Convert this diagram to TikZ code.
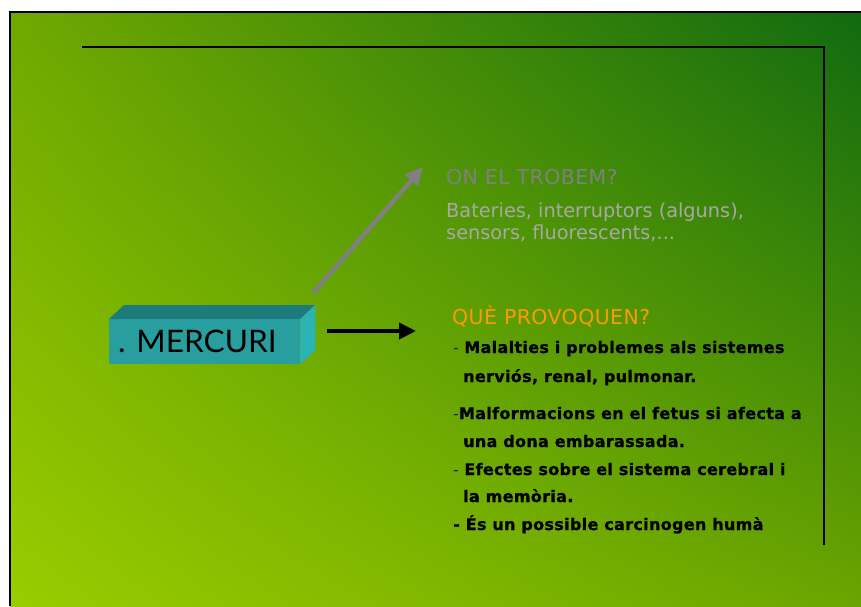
\documentclass[tikz,border=0pt]{standalone}
\usepackage{fontspec}
\usetikzlibrary{arrows.meta,shadings}
\setmainfont{DejaVu Sans}
\newfontfamily\lbf{DejaVu Sans}[LetterSpace=2, BoldFeatures={FakeBold=1}]
\newfontfamily\hdf{DejaVu Sans}[LetterSpace=2]
\newfontfamily\merc{Lato}
\definecolor{gUL}{RGB}{112,168,0}
\definecolor{gLL}{RGB}{153,204,0}
\definecolor{gUR}{RGB}{16,106,16}
\definecolor{gLR}{RGB}{106,164,0}
\definecolor{boxfront}{RGB}{40,158,158}
\definecolor{boxtop}{RGB}{30,123,123}
\definecolor{boxside}{RGB}{43,180,180}
\definecolor{headgray}{RGB}{128,128,128}
\definecolor{bodygray}{RGB}{168,168,168}
\definecolor{headorange}{RGB}{255,153,0}
\definecolor{dashgray}{RGB}{40,40,40}
\begin{document}
\begin{tikzpicture}[x=1pt,y=-1pt,
  txt/.style={anchor=base west, inner sep=0pt},
  lst/.style={txt, font=\lbf\fontsize{16}{19}\selectfont},
  lstb/.style={txt, font=\lbf\bfseries\fontsize{16}{19}\selectfont},
  headtxt/.style={txt, font=\hdf\fontsize{20.5}{25}\selectfont},
  bodytxt/.style={txt, font=\fontsize{19.3}{22}\selectfont, text=bodygray},
  arrowgray/.style={draw=headgray, line width=4.5pt, -{Triangle[length=18pt,width=17pt]}},
  arrowblack/.style={draw=black, line width=4pt, -{Triangle[length=17pt,width=16pt]}}]
\useasboundingbox (0,0) rectangle (861,606);
% slide background
\shade[upper left=gUL, lower left=gLL, upper right=gUR, lower right=gLR] (10,12) rectangle (861,606);
\draw[line width=2pt] (10,606) -- (10,12) -- (861,12);
% frame lines
\draw[line width=1.2pt] (82,47) -- (824,47) -- (824,545);
% box
\node[fill=boxfront, minimum width=191pt, minimum height=45pt, inner sep=0pt, anchor=north west] (box) at (109,319) {};
\fill[boxtop] (box.north west) -- ++(15,-14) -- ++(191,0) -- (box.north east) -- cycle;
\fill[boxside] (box.north east) -- ++(15,-14) -- ++(0,45) -- (box.south east) -- cycle;
\node[txt, font=\merc\fontsize{31}{34}\selectfont, xscale=1.02] (merc) at (118,352) {. MERCURI};
% arrows
\coordinate (g0) at (313,293);
\coordinate (g1) at (423,167);
\draw[arrowgray] (g0) -- (g1);
\coordinate (b0) at (327,331);
\coordinate (b1) at (416,331);
\draw[arrowblack] (b0) -- (b1);
% upper text
\node[headtxt, text=headgray] (h1) at (446,184) {ON EL TROBEM?};
\node[bodytxt] (t1) at (446,217) {Bateries, interruptors (alguns),};
\node[bodytxt] (t2) at (446,239) {sensors, fluorescents,...};
% lower text
\node[headtxt, text=headorange] (h2) at (452,324) {QUÈ PROVOQUEN?};
\node[lst] (l1) at (453,353) {{\color{dashgray}-} \bfseries Malalties i problemes als sistemes};
\node[lstb] (l2) at (463,382) {nerviós, renal, pulmonar.};
\node[lst] (l3) at (453,419) {{\color{dashgray}-}\bfseries Malformacions en el fetus si afecta a};
\node[lstb] (l4) at (463,447) {una dona embarassada.};
\node[lst] (l5) at (453,475) {{\color{dashgray}-} \bfseries Efectes sobre el sistema cerebral i};
\node[lstb] (l6) at (463,502) {la memòria.};
\node[lstb] (l7) at (453,530) {- És un possible carcinogen humà};
\end{tikzpicture}
\end{document}
